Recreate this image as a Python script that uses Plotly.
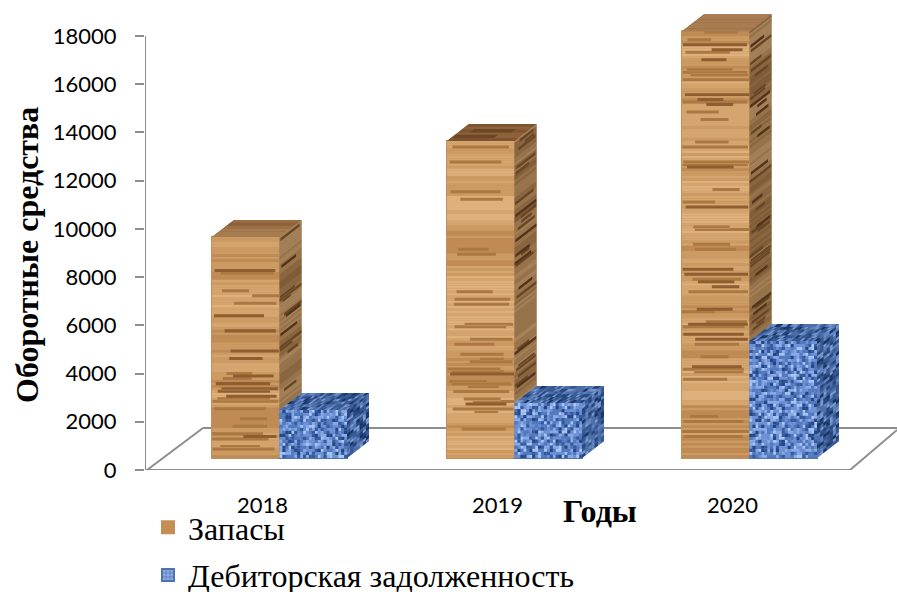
import math
import plotly.graph_objects as go

# Chart data
years = ["2018", "2019", "2020"]
inventories = [9170, 13150, 17700]
receivables = [1990, 2280, 4850]
y_ticks = list(range(0, 18001, 2000))
series_names = ["Запасы", "Дебиторская задолженность"]

# Pixel scale of the plot area
PX_X = 235.0
PX_Y = 434.0 / 18000
PLOT_W, PLOT_H = 752, 470
X_MIN = -0.5
X_MAX = X_MIN + PLOT_W / PX_X
Y_MAX = PLOT_H / PX_Y


def dx(px):
    return px / PX_X


def dy(px):
    return px / PX_Y


# Pseudo-3D box geometry
BAR_W = dx(67.5)
OFFSET_A = dx(-50.5)
OFFSET_B = dx(17)
LIFT = dy(12)
DEPTH_X, DEPTH_Y = dx(22), dy(17)

# Surface colour ramps, light to dark
WOOD_FRONT = ["#DDB07C", "#D5A56F", "#CC9A63", "#BF8A54", "#AC7842", "#8E5E30"]
WOOD_SIDE = ["#A58259", "#98744C", "#8A6640", "#7E5C38", "#674626", "#52341A"]
WOOD_TOP = ["#A67C50", "#9A6F44", "#8E6239", "#7E5430", "#6C4626", "#5A391D"]
WEAVE_FRONT = ["#A9C6F5", "#8AABE8", "#6C90D3", "#5078BC", "#36599C", "#234684"]
WEAVE_SIDE = ["#7C9BD0", "#6485BE", "#4C6EA9", "#375892", "#25457C", "#183467"]
GRAY = "#8E8E8E"


def speck(i, j, seed):
    """Repeatable surface speckle in 0..1 for one texture cell."""
    v = math.sin(i * 12.9898 + j * 78.233 + seed * 37.719) * 43758.5453
    return v - math.floor(v)


def wood_row(i, j, seed):
    """Base grain: soft bands running the full width of a board."""
    k = j // 6
    f = (j % 6) / 6
    soft = speck(1, k, seed) * (1 - f) + speck(1, k + 1, seed) * f
    v = 0.7 * soft + 0.3 * speck(2, j, seed)
    return max(0, min(3, int((v - 0.15) / 0.19)))


def weave_level(i, j, seed):
    """Woven cloth: alternating threads broken up by speckle."""
    thread = 0.5 if (i // 2 + j // 2) % 2 else 0.0
    v = 0.5 * thread + 0.75 * speck(i, j, seed)
    return max(0, min(5, int(v * 6 / 1.05)))


def poly(x0, y0, u, v, s0, s1, t0, t1):
    pts = [(x0 + s * u[0] + t * v[0], y0 + s * u[1] + t * v[1])
           for s, t in [(s0, t0), (s1, t0), (s1, t1), (s0, t1)]]
    return "M" + "L".join(f"{x:.4f},{y:.1f}" for x, y in pts) + "Z"


def paths_to_shapes(cells, ramp):
    return [dict(type="path", path="".join(p), xref="x", yref="y", layer="above",
                 fillcolor=ramp[lvl], line=dict(width=0))
            for lvl, p in sorted(cells.items())]


def texture(origin, u, v, n_u, n_v, ramp, level, seed):
    """Cover the face origin + s*u + t*v with cells, one path per colour."""
    cells = {}
    eps = 1.06
    for i in range(n_u):
        for j in range(n_v):
            s0, s1 = i / n_u, min(1.0, (i + eps) / n_u)
            t0, t1 = j / n_v, min(1.0, (j + eps) / n_v)
            cells.setdefault(level(i, j, seed), []).append(poly(*origin, u, v, s0, s1, t0, t1))
    return paths_to_shapes(cells, ramp)


def streaks(origin, u, v, n_v, ramp, seed):
    """Unbroken dark streaks that stop part-way along the board."""
    cells = {}
    for j in range(n_v):
        wave = 0.5 + 0.5 * math.sin(j * 0.07 + seed * 2.3)
        if speck(0, j, seed + 4) < 0.84 - 0.16 * wave:
            continue
        length = 0.35 + 0.65 * speck(4, j, seed)
        start = speck(3, j, seed) * (1 - length)
        lvl = 5 if speck(5, j, seed) > 0.7 else 4
        t0, t1 = j / n_v, min(1.0, (j + 1.2) / n_v)
        cells.setdefault(lvl, []).append(poly(*origin, u, v, start, start + length, t0, t1))
    return paths_to_shapes(cells, ramp)


def wood(origin, u, v, n_v, ramp, seed):
    return (texture(origin, u, v, 1, n_v, ramp, wood_row, seed)
            + streaks(origin, u, v, n_v, ramp, seed))


def face(xs, ys, **style):
    return go.Scatter(x=xs, y=ys, mode="lines", fill="toself", line=dict(width=0),
                      hoverinfo="skip", showlegend=False, **style)


positions = list(range(len(years)))
fig = go.Figure()

# Front faces: the bars themselves
fig.add_trace(go.Bar(
    x=positions, y=inventories, base=[LIFT] * 3, width=BAR_W, offset=OFFSET_A,
    name=series_names[0], legendgroup="a",
    marker=dict(color="#C68E55", line=dict(color="#C68E55", width=2)),
))
fig.add_trace(go.Bar(
    x=positions, y=receivables, base=[LIFT] * 3, width=BAR_W, offset=OFFSET_B,
    name=series_names[1], legendgroup="b",
    marker=dict(color="#7F9FDA", line=dict(color="#4F73B5", width=2),
                pattern=dict(shape="+", bgcolor="#8FAEE6", fgcolor="#2F5597", size=5, solidity=0.45)),
))

shapes = []
GRAIN_H = 2.5
CELL = 3

# Side and top faces, computed from the same values as the bars
for i, (a, b) in enumerate(zip(inventories, receivables)):
    a_top, b_top = LIFT + a, LIFT + b
    al, ar = i + OFFSET_A, i + OFFSET_A + BAR_W
    bl, br = i + OFFSET_B, i + OFFSET_B + BAR_W
    a_px = a * PX_Y
    b_px = b * PX_Y
    seed = i * 1.7 + 0.4

    fig.add_trace(face([ar, ar + DEPTH_X, ar + DEPTH_X, ar, ar],
                       [b_top, b_top + DEPTH_Y, a_top + DEPTH_Y, a_top, b_top],
                       fillcolor=WOOD_SIDE[2]))
    fig.add_trace(face([al, al + DEPTH_X, ar + DEPTH_X, ar, al],
                       [a_top, a_top + DEPTH_Y, a_top + DEPTH_Y, a_top, a_top],
                       fillcolor=WOOD_TOP[2]))
    fig.add_trace(face([bl, bl + DEPTH_X, br + DEPTH_X, br, bl],
                       [b_top, b_top + DEPTH_Y, b_top + DEPTH_Y, b_top, b_top],
                       fillcolor=WEAVE_SIDE[2]))
    fig.add_trace(face([br, br + DEPTH_X, br + DEPTH_X, br, br],
                       [b_top, b_top + DEPTH_Y, LIFT + DEPTH_Y, LIFT, b_top],
                       fillcolor=WEAVE_SIDE[2]))

    shapes += wood((al, LIFT), (BAR_W, 0), (0, a), round(a_px / GRAIN_H), WOOD_FRONT, seed)
    shapes += wood((ar, b_top), (DEPTH_X, DEPTH_Y), (0, a - b),
                   round((a_px - b_px) / GRAIN_H), WOOD_SIDE, seed + 5)
    shapes += wood((al, a_top), (BAR_W, 0), (DEPTH_X, DEPTH_Y), 6, WOOD_TOP, seed + 9)
    shapes += texture((bl, LIFT), (BAR_W, 0), (0, b), 23, round(b_px / CELL),
                      WEAVE_FRONT, weave_level, seed)
    shapes += texture((br, LIFT), (DEPTH_X, DEPTH_Y), (0, b), 7, round(b_px / CELL),
                      WEAVE_SIDE, weave_level, seed + 3)
    shapes += texture((bl, b_top), (BAR_W, 0), (DEPTH_X, DEPTH_Y), 23, 6,
                      WEAVE_SIDE, weave_level, seed + 6)

# Floor and vertical axis of the box
floor_left = X_MIN + dx(2)
floor_right = X_MIN + dx(705)
back_y = dy(42)
for x0, y0, x1, y1 in [
    (X_MIN, 0, X_MIN, 18000),
    (X_MIN, 0, floor_right, 0),
    (floor_left, 0, floor_left + dx(56), back_y),
    (floor_left + dx(56), back_y, X_MAX, back_y),
    (floor_right, 0, floor_right + dx(47), dy(40)),
]:
    shapes.append(dict(type="line", x0=x0, y0=y0, x1=x1, y1=y1, xref="x", yref="y",
                       layer="below", line=dict(color=GRAY, width=2)))

fig.update_layout(
    width=897, height=592, autosize=False,
    margin=dict(l=145, r=0, t=0, b=122, autoexpand=False),
    paper_bgcolor="white", plot_bgcolor="white",
    barmode="overlay", shapes=shapes,
    font=dict(family="Lato", color="black"),
    legend=dict(
        x=(148 - 145) / PLOT_W, y=(470 - 500) / PLOT_H, xanchor="left", yanchor="top",
        orientation="v", traceorder="grouped", tracegroupgap=3,
        bgcolor="rgba(0,0,0,0)",
        font=dict(family="Liberation Serif", size=32, color="black"),
    ),
    xaxis=dict(
        range=[X_MIN, X_MAX], tickmode="array", tickvals=positions, ticktext=years,
        showgrid=False, zeroline=False, showline=False, ticks="",
        tickfont=dict(size=22), ticklabelstandoff=20,
    ),
    yaxis=dict(
        range=[0, Y_MAX], tickmode="array", tickvals=y_ticks,
        showgrid=False, zeroline=False, showline=False,
        ticks="outside", ticklen=9, tickwidth=2, tickcolor=GRAY,
        tickfont=dict(size=22), tickformat="d", ticklabelstandoff=14,
    ),
    annotations=[
        dict(text="<b>Оборотные средства</b>", xref="paper", yref="paper",
             x=(27 - 145) / PLOT_W, y=(470 - 255) / PLOT_H, textangle=-90,
             xanchor="center", yanchor="middle",
             showarrow=False, font=dict(family="Liberation Serif", size=32)),
        dict(text="<b>Годы</b>", xref="paper", yref="paper",
             x=(600 - 145) / PLOT_W, y=(470 - 511) / PLOT_H,
             xanchor="center", yanchor="middle",
             showarrow=False, font=dict(family="Liberation Serif", size=32)),
    ],
)

fig.write_html("out.html")
